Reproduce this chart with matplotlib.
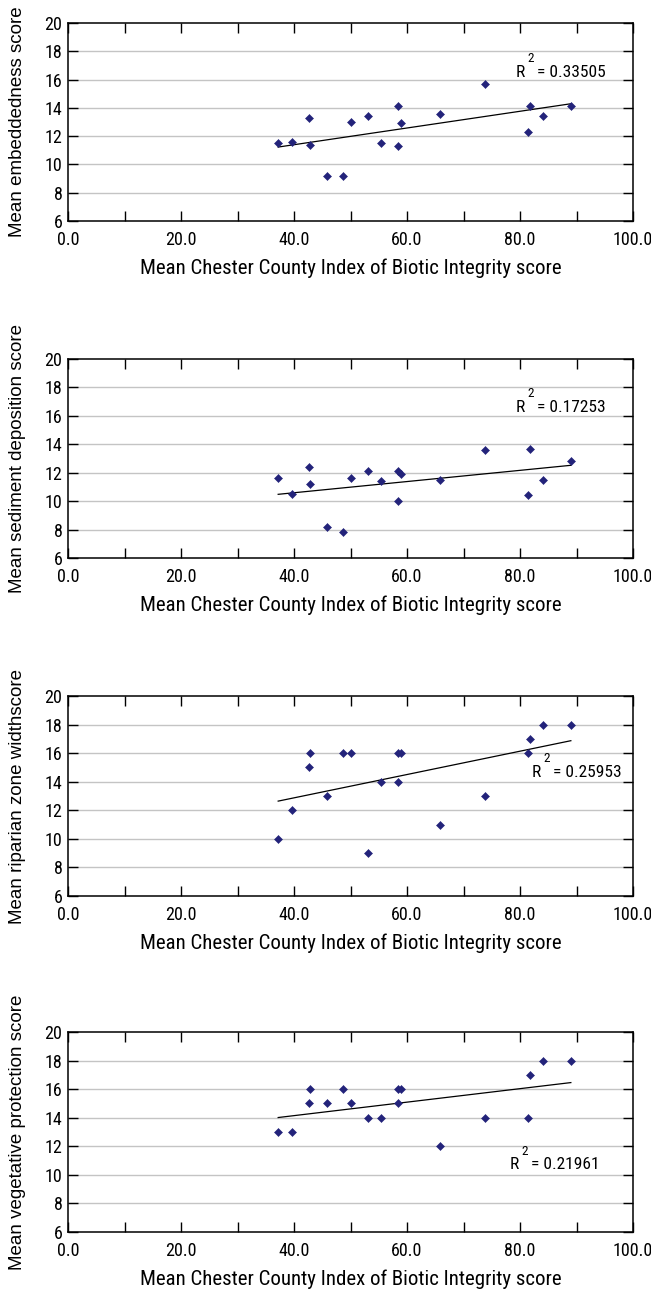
import numpy as np
import matplotlib
matplotlib.use("Agg")
import matplotlib.pyplot as plt
from matplotlib import font_manager
from matplotlib.ticker import FixedLocator, FixedFormatter

# Mean Chester County IBI score for each site (shared x values)
ibi = [37.2, 39.6, 42.6, 42.8, 45.9, 48.7, 50.1, 53.1, 55.4,
       58.4, 58.4, 58.9, 65.9, 73.8, 81.4, 81.7, 84.1, 89.0]

embeddedness = [11.5, 11.6, 13.3, 11.4, 9.2, 9.2, 13.0, 13.4, 11.5,
                14.1, 11.3, 12.9, 13.6, 15.7, 12.3, 14.1, 13.4, 14.1]
sediment = [11.6, 10.5, 12.4, 11.2, 8.2, 7.8, 11.6, 12.1, 11.4,
            12.1, 10.0, 11.9, 11.5, 13.6, 10.4, 13.7, 11.5, 12.8]
riparian = [10, 12, 15, 16, 13, 16, 16, 9, 14,
            16, 14, 16, 11, 13, 16, 17, 18, 18]
vegetative = [13, 13, 15, 16, 15, 16, 15, 14, 14,
              16, 15, 16, 12, 14, 14, 17, 18, 18]

y_labels = ["Mean embeddedness score",
            "Mean sediment deposition score",
            "Mean riparian zone widthscore",
            "Mean vegetative protection score"]
r2_labels = ["0.33505", "0.17253", "0.25953", "0.21961"]
r2_pos = [(79.3, 16.2), (79.3, 16.3), (82.1, 14.35), (78.2, 10.4)]

x_label = "Mean Chester County Index of Biotic Integrity score"
x_ticks = [0, 10, 20, 30, 40, 50, 60, 70, 80, 90, 100]
x_ticklabels = ["0.0", "", "20.0", "", "40.0", "", "60.0", "", "80.0", "", "100.0"]
y_ticks = [6, 8, 10, 12, 14, 16, 18, 20]

installed = {f.name for f in font_manager.fontManager.ttflist}


def pick(*names):
    for n in names:
        if n in installed:
            return [n, "DejaVu Sans"]
    return ["DejaVu Sans"]


narrow = pick("Roboto Condensed", "Liberation Sans Narrow", "Open Sans Condensed",
              "Noto Sans Condensed", "Roboto")
regular = pick("Liberation Sans", "Roboto")
narrow_is_condensed = narrow[0] != "Roboto"
marker_color = "#23237a"

W, H = 651, 1293
fig = plt.figure(figsize=(W / 100, H / 100), dpi=100)

# axes boxes in pixels: (left, top, right, bottom)
boxes = [(68, 23, 633, 221), (68, 359, 633, 558), (68, 696, 633, 896), (68, 1032, 633, 1232)]
series = [embeddedness, sediment, riparian, vegetative]

tick_fs = 13 if narrow_is_condensed else 11
label_fs = 15 if narrow_is_condensed else 12.5
r2_fs = 12.5 if narrow_is_condensed else 11

for (l, t, r, b), ys, ylab, r2, (rx, ry) in zip(boxes, series, y_labels, r2_labels, r2_pos):
    ax = fig.add_axes([l / W, 1 - b / H, (r - l) / W, (b - t) / H])
    ax.set_xlim(0, 100)
    ax.set_ylim(6, 20)

    for yv in y_ticks[1:-1]:
        ax.axhline(yv, color="#c4c4c4", lw=1.0, zorder=1)

    x = np.array(ibi)
    y = np.array(ys, dtype=float)
    slope, intercept = np.polyfit(x, y, 1)
    xs = np.array([x.min(), x.max()])
    ax.plot(xs, slope * xs + intercept, color="black", lw=0.9, zorder=2)

    ax.plot(x, y, linestyle="none", marker="D", ms=4.0, color=marker_color,
            mec=marker_color, mew=0.4, zorder=3)

    ax.xaxis.set_major_locator(FixedLocator(x_ticks))
    ax.xaxis.set_major_formatter(FixedFormatter(x_ticklabels))
    ax.set_yticks(y_ticks)
    ax.set_yticklabels([str(v) for v in y_ticks])
    ax.tick_params(axis="both", direction="in", length=7.5, width=1.0,
                   top=True, right=True, labelsize=tick_fs, colors="black")
    ax.tick_params(axis="x", pad=7)
    ax.tick_params(axis="y", pad=4)
    for lab in ax.get_xticklabels() + ax.get_yticklabels():
        lab.set_family(narrow)
    for sp in ax.spines.values():
        sp.set_linewidth(1.1)
        sp.set_color("black")

    ax.set_xlabel(x_label, family=narrow, fontsize=label_fs, labelpad=7)
    ax.set_ylabel(ylab, family=regular, fontsize=13.5)
    ax.yaxis.set_label_coords(-(l - 26) / (r - l), 0.5)

    ax.annotate("R", (rx, ry), ha="left", va="baseline", family=narrow, fontsize=r2_fs)
    ax.annotate("2", (rx, ry), xytext=(10.5, 13), textcoords="offset points",
                ha="center", va="center", family=narrow, fontsize=9.5)
    ax.annotate("= " + r2, (rx, ry), xytext=(15, 0), textcoords="offset points",
                ha="left", va="baseline", family=narrow, fontsize=r2_fs)

fig.savefig("out.png", dpi=100)
